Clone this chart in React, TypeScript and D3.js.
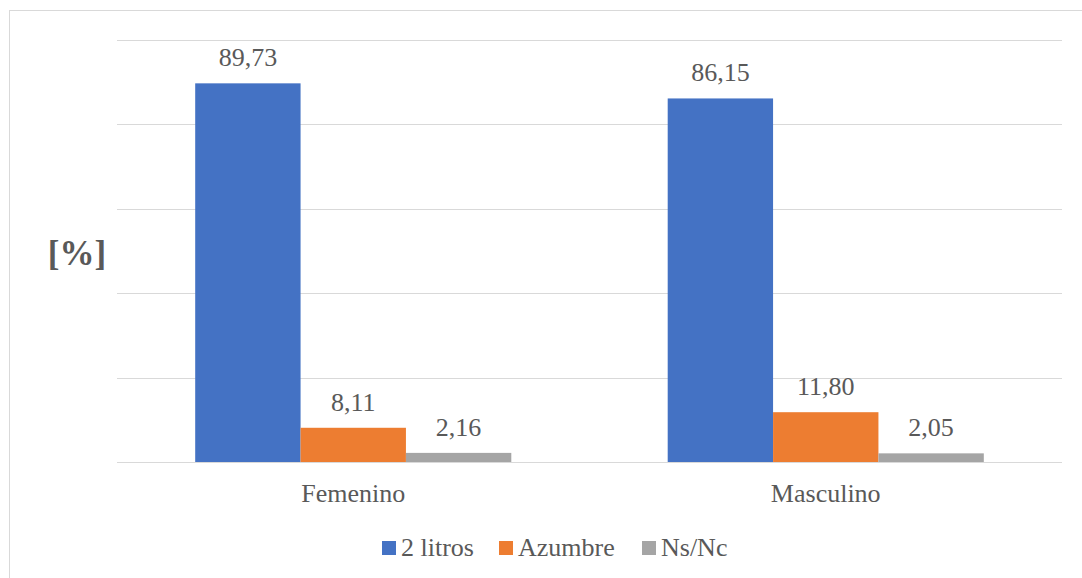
import React, { useEffect, useRef } from 'react';
import * as d3 from 'd3';

const categories = ['Femenino', 'Masculino'];
const seriesNames = ['2 litros', 'Azumbre', 'Ns/Nc'];
const seriesColors = ['#4472C4', '#ED7D31', '#A5A5A5'];
const values2Litros = [89.73, 86.15];
const valuesAzumbre = [8.11, 11.8];
const valuesNsNc = [2.16, 2.05];
const yTicks = [0, 20, 40, 60, 80, 100];

const FONT = "Liberation Serif, DejaVu Serif, serif";
const TEXT = '#595959';

export default function App() {
  const ref = useRef<HTMLDivElement>(null);

  useEffect(() => {
    const container = ref.current;
    if (!container) return;
    d3.select(container).selectAll('*').remove();

    const width = 1082, height = 578;
    const margin = {top: 40, right: 20, bottom: 116, left: 117};
    const innerW = width - margin.left - margin.right;
    const innerH = height - margin.top - margin.bottom;

    const svg = d3.select(container).append('svg')
      .attr('width', width).attr('height', height)
      .style('position', 'absolute').style('left', 0).style('top', 0);

    svg.append('rect').attr('width', width).attr('height', height).attr('fill', '#fff');
    // chart frame
    svg.append('rect').attr('x', 9.5).attr('y', 10.5).attr('width', width + 20).attr('height', height + 20)
      .attr('fill', 'none').attr('stroke', '#d9d9d9').attr('stroke-width', 1);

    const g = svg.append('g').attr('transform', `translate(${margin.left},${margin.top})`);

    const x0 = d3.scaleBand<string>().domain(categories).range([0, innerW]).paddingInner(0.331).paddingOuter(0.1655);
    const x1 = d3.scaleBand<string>().domain(seriesNames).range([0, x0.bandwidth()]);
    const y = d3.scaleLinear().domain([0, 100]).range([innerH, 0]);

    // gridlines
    g.selectAll('.grid').data(yTicks).enter().append('line')
      .attr('x1', 0).attr('x2', innerW)
      .attr('y1', d => Math.round(y(d)) + 0.5).attr('y2', d => Math.round(y(d)) + 0.5)
      .attr('stroke', '#d9d9d9').attr('stroke-width', 1);

    const series = [values2Litros, valuesAzumbre, valuesNsNc];
    const rows = categories.flatMap((c, ci) => seriesNames.map((s, si) => ({c, s, si, v: series[si][ci]})));

    g.selectAll('.bar').data(rows).enter().append('rect')
      .attr('x', d => (x0(d.c) || 0) + (x1(d.s) || 0))
      .attr('y', d => y(d.v))
      .attr('width', x1.bandwidth())
      .attr('height', d => innerH - y(d.v))
      .attr('fill', d => seriesColors[d.si]);

    g.selectAll('.val').data(rows).enter().append('text')
      .attr('x', d => (x0(d.c) || 0) + (x1(d.s) || 0) + x1.bandwidth() / 2)
      .attr('y', d => y(d.v) - 17)
      .style('font-family', FONT)
      .attr('text-anchor', 'middle').attr('fill', TEXT).attr('font-size', 26)
      .text(d => d.v.toFixed(2).replace('.', ','));

    // category labels
    g.selectAll('.cat').data(categories).enter().append('text')
      .attr('x', d => (x0(d) || 0) + x0.bandwidth() / 2)
      .attr('y', innerH + 40)
      .style('font-family', FONT)
      .attr('text-anchor', 'middle').attr('fill', TEXT).attr('font-size', 26)
      .text(d => d);

    // y axis title
    svg.append('text').attr('x', 77).attr('y', 265)
      .style('font-family', FONT)
      .attr('text-anchor', 'middle').attr('fill', TEXT).attr('font-size', 35).attr('font-weight', 700)
      .text('[%]');

    // legend
    const legendX = [382, 499, 642];
    const lg = svg.append('g').attr('transform', 'translate(0,541)');
    seriesNames.forEach((s, i) => {
      lg.append('rect').attr('x', legendX[i]).attr('y', 0).attr('width', 14).attr('height', 14).attr('fill', seriesColors[i]);
      lg.append('text').attr('x', legendX[i] + 19).attr('y', 15).style('font-family', FONT)
        .attr('fill', TEXT).attr('font-size', 26).text(s);
    });
  }, []);

  return <div ref={ref} style={{width: 1082, height: 578}} />;
}
